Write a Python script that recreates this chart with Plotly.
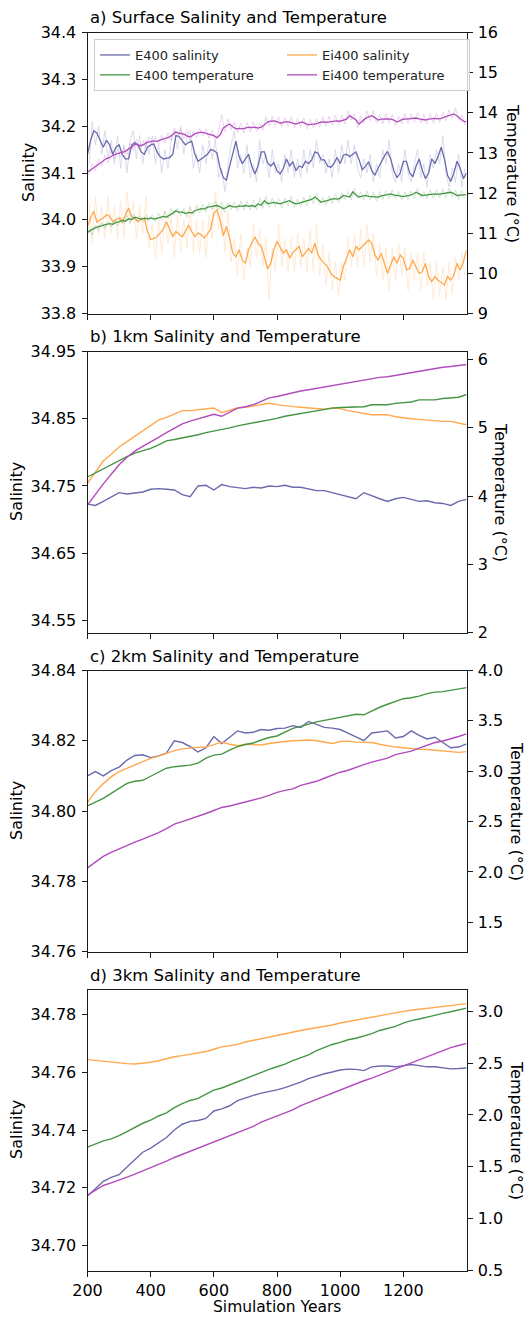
import plotly.graph_objects as go

W, H = 529, 1317

# ---------------- data ----------------
YEARS_SURF = list(range(200, 1401, 10))      # smoothed surface series
YEARS_RAW = list(range(205, 1400, 10))       # raw (annual-ish) surface series
YEARS_DEEP = list(range(200, 1401, 25))      # deep series

# a) Surface
E400_SAL_SURF = [
    34.140, 34.170, 34.190, 34.185, 34.170, 34.155, 34.170, 34.160, 34.140, 34.155,
    34.160, 34.140, 34.130, 34.130, 34.160, 34.165, 34.160, 34.145, 34.140, 34.155,
    34.160, 34.162, 34.145, 34.135, 34.130, 34.132, 34.133, 34.140, 34.180, 34.178,
    34.168, 34.160, 34.165, 34.168, 34.140, 34.125, 34.130, 34.135, 34.140, 34.150,
    34.148, 34.143, 34.110, 34.090, 34.085, 34.115, 34.140, 34.168, 34.135, 34.120,
    34.130, 34.140, 34.115, 34.098, 34.115, 34.145, 34.145, 34.122, 34.115, 34.122,
    34.105, 34.098, 34.110, 34.130, 34.115, 34.124, 34.105, 34.115, 34.112, 34.125,
    34.120, 34.128, 34.145, 34.142, 34.128, 34.128, 34.115, 34.112, 34.120, 34.133,
    34.120, 34.138, 34.140, 34.135, 34.140, 34.145, 34.128, 34.107, 34.114, 34.124,
    34.105, 34.095, 34.110, 34.124, 34.136, 34.146, 34.130, 34.105, 34.090, 34.100,
    34.125, 34.125, 34.100, 34.092, 34.114, 34.130, 34.106, 34.088, 34.100, 34.130,
    34.120, 34.135, 34.155, 34.130, 34.095, 34.082, 34.100, 34.125, 34.110, 34.088,
    34.100]
E400_TEMP_SURF = [
    11.02, 11.08, 11.12, 11.15, 11.18, 11.20, 11.22, 11.24, 11.22, 11.27,
    11.28, 11.32, 11.30, 11.36, 11.34, 11.40, 11.37, 11.35, 11.37, 11.36,
    11.38, 11.35, 11.37, 11.40, 11.42, 11.40, 11.44, 11.50, 11.56, 11.52,
    11.53, 11.49, 11.52, 11.50, 11.56, 11.58, 11.61, 11.60, 11.65, 11.66,
    11.67, 11.69, 11.66, 11.61, 11.64, 11.69, 11.66, 11.65, 11.68, 11.67,
    11.69, 11.67, 11.69, 11.66, 11.73, 11.70, 11.81, 11.74, 11.75, 11.77,
    11.75, 11.73, 11.76, 11.79, 11.81, 11.76, 11.73, 11.75, 11.77, 11.79,
    11.81, 11.84, 11.90, 11.83, 11.77, 11.80, 11.81, 11.84, 11.86, 11.85,
    11.87, 11.94, 11.92, 11.90, 12.03, 11.95, 11.90, 11.92, 11.94, 11.92,
    11.91, 11.90, 11.90, 11.93, 11.94, 11.96, 11.98, 11.95, 11.94, 11.92,
    11.91, 11.93, 11.94, 11.97, 12.02, 11.98, 11.94, 11.95, 11.96, 11.97,
    11.98, 11.97, 11.98, 11.99, 12.00, 12.02, 11.99, 11.94, 11.95, 11.96,
    11.96]
EI400_SAL_SURF = [
    33.985, 34.005, 34.018, 33.995, 34.000, 34.004, 34.011, 34.008, 33.996, 34.000,
    34.004, 33.995, 34.010, 34.025, 34.006, 34.004, 33.996, 34.002, 34.004, 33.975,
    33.958, 33.960, 33.964, 33.972, 33.980, 33.996, 33.980, 33.964, 33.975, 33.970,
    33.964, 33.975, 33.989, 33.975, 33.964, 33.972, 33.968, 33.961, 33.972, 33.980,
    34.014, 34.021, 34.000, 33.966, 33.986, 33.961, 33.929, 33.921, 33.936, 33.914,
    33.907, 33.936, 33.950, 33.964, 33.950, 33.943, 33.921, 33.895, 33.907, 33.936,
    33.954, 33.940, 33.929, 33.936, 33.918, 33.930, 33.936, 33.943, 33.921, 33.929,
    33.939, 33.929, 33.950, 33.925, 33.914, 33.907, 33.900, 33.886, 33.879, 33.875,
    33.871, 33.900, 33.920, 33.936, 33.921, 33.943, 33.936, 33.943, 33.950, 33.957,
    33.950, 33.925, 33.914, 33.929, 33.907, 33.886, 33.904, 33.921, 33.907, 33.925,
    33.918, 33.893, 33.896, 33.914, 33.900, 33.886, 33.889, 33.907, 33.879, 33.868,
    33.879, 33.871, 33.866, 33.861, 33.879, 33.871, 33.882, 33.907, 33.893, 33.910,
    33.936]
EI400_TEMP_SURF = [
    12.52, 12.58, 12.62, 12.68, 12.74, 12.80, 12.86, 12.88, 12.94, 12.97,
    12.99, 13.02, 13.04, 13.10, 13.14, 13.22, 13.20, 13.18, 13.22, 13.27,
    13.28, 13.30, 13.29, 13.33, 13.35, 13.37, 13.40, 13.46, 13.52, 13.49,
    13.48, 13.45, 13.40, 13.42, 13.48, 13.50, 13.52, 13.50, 13.48, 13.45,
    13.43, 13.38, 13.45, 13.62, 13.66, 13.72, 13.65, 13.60, 13.61, 13.60,
    13.62, 13.64, 13.63, 13.64, 13.62, 13.64, 13.70, 13.77, 13.79, 13.80,
    13.78, 13.74, 13.76, 13.78, 13.77, 13.74, 13.72, 13.75, 13.77, 13.73,
    13.70, 13.72, 13.72, 13.74, 13.77, 13.77, 13.76, 13.78, 13.79, 13.80,
    13.79, 13.81, 13.84, 13.93, 13.88, 13.82, 13.72, 13.80, 13.86, 13.90,
    13.93, 13.88, 13.82, 13.84, 13.85, 13.85, 13.84, 13.82, 13.77, 13.81,
    13.85, 13.84, 13.85, 13.86, 13.87, 13.85, 13.83, 13.82, 13.84, 13.85,
    13.86, 13.85, 13.86, 13.89, 13.92, 13.95, 13.97, 13.92, 13.85, 13.79,
    13.77]

E400_SAL_RAW = [
    34.12, 34.21, 34.16, 34.20, 34.14, 34.19, 34.13, 34.17, 34.12, 34.18,
    34.11, 34.16, 34.10, 34.17, 34.19, 34.13, 34.18, 34.12, 34.17, 34.14,
    34.18, 34.12, 34.16, 34.10, 34.15, 34.11, 34.17, 34.19, 34.15, 34.20,
    34.14, 34.18, 34.19, 34.11, 34.14, 34.10, 34.16, 34.12, 34.17, 34.13,
    34.17, 34.09, 34.11, 34.06, 34.12, 34.16, 34.19, 34.11, 34.14, 34.10,
    34.16, 34.09, 34.12, 34.08, 34.17, 34.12, 34.14, 34.09, 34.15, 34.10,
    34.12, 34.08, 34.14, 34.10, 34.15, 34.09, 34.13, 34.09, 34.15, 34.10,
    34.15, 34.11, 34.17, 34.12, 34.14, 34.10, 34.13, 34.09, 34.15, 34.10,
    34.16, 34.12, 34.17, 34.12, 34.16, 34.11, 34.09, 34.13, 34.10, 34.14,
    34.08, 34.12, 34.09, 34.15, 34.12, 34.17, 34.10, 34.08, 34.12, 34.08,
    34.15, 34.10, 34.08, 34.12, 34.15, 34.09, 34.12, 34.07, 34.14, 34.11,
    34.15, 34.12, 34.18, 34.10, 34.07, 34.11, 34.08, 34.14, 34.07, 34.11]
E400_TEMP_RAW = [
    11.15, 10.95, 11.20, 11.05, 11.28, 11.12, 11.30, 11.15, 11.35, 11.18,
    11.40, 11.22, 11.45, 11.25, 11.48, 11.30, 11.44, 11.28, 11.46, 11.30,
    11.46, 11.28, 11.50, 11.32, 11.55, 11.35, 11.62, 11.45, 11.64, 11.42,
    11.62, 11.40, 11.65, 11.45, 11.70, 11.50, 11.72, 11.52, 11.76, 11.58,
    11.80, 11.58, 11.78, 11.52, 11.76, 11.58, 11.78, 11.55, 11.80, 11.58,
    11.80, 11.57, 11.82, 11.58, 11.88, 11.62, 11.92, 11.64, 11.88, 11.66,
    11.86, 11.62, 11.88, 11.68, 11.92, 11.64, 11.86, 11.65, 11.90, 11.68,
    11.95, 11.74, 12.00, 11.72, 11.90, 11.70, 11.94, 11.74, 11.98, 11.76,
    12.02, 11.84, 12.04, 11.82, 12.12, 11.86, 12.02, 11.83, 12.05, 11.82,
    12.02, 11.80, 12.04, 11.84, 12.06, 11.86, 12.08, 11.86, 12.04, 11.82,
    12.03, 11.84, 12.05, 11.86, 12.12, 11.88, 12.04, 11.86, 12.08, 11.86,
    12.08, 11.88, 12.10, 11.88, 12.12, 11.90, 12.08, 11.84, 12.06, 11.86]
EI400_SAL_RAW = [
    34.04, 33.95, 34.05, 33.97, 34.03, 33.96, 34.05, 33.97, 34.03, 33.96,
    34.04, 33.96, 34.06, 33.99, 34.04, 33.96, 34.03, 33.97, 34.05, 33.94,
    33.99, 33.92, 34.00, 33.93, 34.02, 33.95, 34.01, 33.92, 34.01, 33.93,
    34.00, 33.94, 34.03, 33.93, 34.00, 33.93, 34.00, 33.92, 34.01, 33.96,
    34.06, 33.98, 34.03, 33.93, 34.02, 33.91, 33.96, 33.88, 33.97, 33.87,
    33.94, 33.90, 33.99, 33.92, 33.98, 33.90, 33.96, 33.83, 33.94, 33.89,
    33.99, 33.90, 33.96, 33.89, 33.96, 33.89, 33.97, 33.90, 33.96, 33.89,
    33.98, 33.89, 33.99, 33.88, 33.95, 33.86, 33.93, 33.85, 33.91, 33.84,
    33.91, 33.87, 33.96, 33.90, 33.97, 33.90, 33.98, 33.90, 33.99, 33.91,
    33.97, 33.88, 33.95, 33.87, 33.94, 33.85, 33.94, 33.87, 33.95, 33.88,
    33.94, 33.85, 33.93, 33.87, 33.93, 33.85, 33.93, 33.86, 33.91, 33.83,
    33.91, 33.84, 33.90, 33.83, 33.91, 33.84, 33.92, 33.87, 33.93, 33.88]
EI400_TEMP_RAW = [
    12.45, 12.75, 12.55, 12.85, 12.65, 12.95, 12.75, 13.05, 12.85, 13.10,
    12.90, 13.15, 12.95, 13.25, 13.05, 13.35, 13.08, 13.32, 13.12, 13.40,
    13.18, 13.42, 13.20, 13.45, 13.25, 13.50, 13.30, 13.62, 13.40, 13.60,
    13.35, 13.58, 13.30, 13.55, 13.38, 13.62, 13.42, 13.60, 13.36, 13.56,
    13.30, 13.55, 13.95, 13.52, 13.85, 13.58, 13.78, 13.50, 13.74, 13.50,
    13.76, 13.52, 13.78, 13.54, 13.75, 13.56, 13.90, 13.66, 13.92, 13.68,
    13.90, 13.64, 13.88, 13.66, 13.90, 13.62, 13.86, 13.64, 13.88, 13.60,
    13.84, 13.62, 13.86, 13.64, 13.90, 13.66, 13.92, 13.68, 13.94, 13.70,
    13.94, 13.72, 14.05, 13.82, 13.98, 13.62, 13.92, 13.74, 14.04, 13.80,
    14.05, 13.74, 13.96, 13.72, 13.98, 13.74, 13.96, 13.68, 13.92, 13.72,
    13.98, 13.74, 13.98, 13.76, 14.00, 13.74, 13.96, 13.72, 13.98, 13.74,
    13.98, 13.76, 14.02, 13.80, 14.08, 13.84, 14.12, 13.82, 13.95, 13.70]

# b) 1 km
E400_SAL_1KM = [
    34.723, 34.721, 34.727, 34.733, 34.740, 34.738, 34.739, 34.741, 34.745, 34.746,
    34.745, 34.744, 34.737, 34.734, 34.750, 34.751, 34.744, 34.752, 34.749, 34.747,
    34.746, 34.748, 34.747, 34.750, 34.749, 34.751, 34.748, 34.748, 34.745, 34.743,
    34.743, 34.740, 34.738, 34.735, 34.731, 34.740, 34.735, 34.731, 34.727, 34.731,
    34.733, 34.730, 34.727, 34.728, 34.725, 34.724, 34.721, 34.727, 34.730]
EI400_SAL_1KM = [
    34.754, 34.771, 34.787, 34.797, 34.808, 34.816, 34.824, 34.832, 34.840, 34.848,
    34.852, 34.857, 34.862, 34.862, 34.863, 34.864, 34.866, 34.859, 34.863, 34.866,
    34.867, 34.869, 34.870, 34.873, 34.871, 34.869, 34.868, 34.867, 34.866, 34.864,
    34.864, 34.866, 34.865, 34.862, 34.860, 34.858, 34.856, 34.856, 34.856, 34.853,
    34.851, 34.850, 34.849, 34.848, 34.846, 34.846, 34.846, 34.844, 34.841]
E400_TEMP_1KM = [
    4.28, 4.34, 4.41, 4.46, 4.52, 4.58, 4.63, 4.66, 4.70, 4.75,
    4.81, 4.83, 4.85, 4.87, 4.90, 4.93, 4.95, 4.97, 5.00, 5.03,
    5.05, 5.07, 5.10, 5.12, 5.14, 5.17, 5.19, 5.22, 5.24, 5.26,
    5.27, 5.29, 5.30, 5.30, 5.31, 5.31, 5.34, 5.34, 5.34, 5.36,
    5.37, 5.38, 5.41, 5.41, 5.41, 5.43, 5.44, 5.45, 5.49]
EI400_TEMP_1KM = [
    3.87, 4.03, 4.18, 4.32, 4.46, 4.57, 4.66, 4.73, 4.79, 4.86,
    4.93, 5.00, 5.06, 5.10, 5.13, 5.16, 5.20, 5.17, 5.23, 5.29,
    5.31, 5.34, 5.39, 5.44, 5.46, 5.49, 5.51, 5.54, 5.56, 5.58,
    5.60, 5.63, 5.65, 5.67, 5.68, 5.71, 5.73, 5.74, 5.75, 5.77,
    5.80, 5.81, 5.83, 5.85, 5.87, 5.89, 5.90, 5.91, 5.93]

# c) 2 km
E400_SAL_2KM = [
    34.8100, 34.8112, 34.8100, 34.8115, 34.8125, 34.8145, 34.8158, 34.8160, 34.8152, 34.8157,
    34.8165, 34.8200, 34.8195, 34.8183, 34.8168, 34.8180, 34.8212, 34.8192, 34.8210, 34.8228,
    34.8222, 34.8224, 34.8232, 34.8230, 34.8235, 34.8236, 34.8243, 34.8238, 34.8255, 34.8246,
    34.8238, 34.8236, 34.8232, 34.8222, 34.8210, 34.8200, 34.8222, 34.8226, 34.8228, 34.8208,
    34.8212, 34.8228, 34.8215, 34.8205, 34.8210, 34.8195, 34.8180, 34.8182, 34.8191]
EI400_SAL_2KM = [
    34.8025, 34.8055, 34.8078, 34.8097, 34.8112, 34.8122, 34.8132, 34.8140, 34.8150, 34.8156,
    34.8165, 34.8172, 34.8177, 34.8180, 34.8181, 34.8182, 34.8188, 34.8196, 34.8190, 34.8186,
    34.8190, 34.8190, 34.8188, 34.8192, 34.8196, 34.8198, 34.8200, 34.8201, 34.8202, 34.8200,
    34.8196, 34.8192, 34.8198, 34.8199, 34.8196, 34.8196, 34.8195, 34.8190, 34.8185, 34.8182,
    34.8180, 34.8177, 34.8176, 34.8175, 34.8173, 34.8170, 34.8167, 34.8167, 34.8169]
E400_TEMP_2KM = [
    2.655, 2.69, 2.73, 2.78, 2.83, 2.88, 2.90, 2.91, 2.95, 2.99,
    3.03, 3.045, 3.05, 3.06, 3.08, 3.13, 3.16, 3.17, 3.21, 3.245,
    3.265, 3.28, 3.31, 3.335, 3.35, 3.39, 3.425, 3.445, 3.47, 3.49,
    3.505, 3.52, 3.53, 3.545, 3.565, 3.56, 3.60, 3.635, 3.665, 3.69,
    3.72, 3.73, 3.745, 3.77, 3.785, 3.79, 3.805, 3.82, 3.83]
EI400_TEMP_2KM = [
    2.04, 2.10, 2.155, 2.195, 2.23, 2.265, 2.295, 2.325, 2.355, 2.39,
    2.43, 2.475, 2.50, 2.525, 2.55, 2.58, 2.61, 2.64, 2.655, 2.675,
    2.69, 2.71, 2.735, 2.76, 2.79, 2.81, 2.825, 2.86, 2.88, 2.90,
    2.93, 2.96, 2.99, 3.01, 3.04, 3.065, 3.09, 3.11, 3.13, 3.165,
    3.18, 3.20, 3.23, 3.26, 3.285, 3.30, 3.32, 3.345, 3.37]

# d) 3 km
E400_SAL_3KM = [
    34.7171, 34.7198, 34.7222, 34.7236, 34.7245, 34.7272, 34.7299, 34.7323, 34.7337, 34.7354,
    34.7374, 34.7400, 34.7420, 34.7430, 34.7433, 34.7440, 34.7466, 34.7473, 34.7484, 34.7502,
    34.7512, 34.7520, 34.7528, 34.7533, 34.7539, 34.7547, 34.7556, 34.7566, 34.7578, 34.7587,
    34.7595, 34.7601, 34.7608, 34.7611, 34.7610, 34.7606, 34.7619, 34.7622, 34.7622, 34.7619,
    34.7622, 34.7627, 34.7623, 34.7619, 34.7619, 34.7616, 34.7612, 34.7613, 34.7615]
EI400_SAL_3KM = [
    34.7644, 34.7641, 34.7638, 34.7634, 34.7632, 34.7630, 34.7629, 34.7631, 34.7635, 34.7640,
    34.7648, 34.7654, 34.7658, 34.7663, 34.7668, 34.7672, 34.7680, 34.7688, 34.7692, 34.7697,
    34.7705, 34.7711, 34.7716, 34.7722, 34.7728, 34.7734, 34.7739, 34.7745, 34.7750, 34.7754,
    34.7759, 34.7764, 34.7771, 34.7776, 34.7782, 34.7788, 34.7792, 34.7797, 34.7802, 34.7807,
    34.7811, 34.7815, 34.7818, 34.7821, 34.7824, 34.7828, 34.7831, 34.7835, 34.7838]
E400_TEMP_3KM = [
    1.69, 1.72, 1.75, 1.77, 1.80, 1.84, 1.88, 1.92, 1.95, 1.99,
    2.02, 2.07, 2.11, 2.14, 2.16, 2.20, 2.24, 2.26, 2.29, 2.32,
    2.355, 2.385, 2.415, 2.44, 2.465, 2.49, 2.525, 2.555, 2.58, 2.62,
    2.65, 2.68, 2.70, 2.725, 2.74, 2.76, 2.785, 2.815, 2.835, 2.855,
    2.885, 2.91, 2.925, 2.945, 2.965, 2.98, 2.995, 3.01, 3.03]
EI400_TEMP_3KM = [
    1.226, 1.27, 1.32, 1.345, 1.37, 1.40, 1.43, 1.46, 1.49, 1.52,
    1.555, 1.59, 1.62, 1.65, 1.68, 1.71, 1.74, 1.77, 1.80, 1.83,
    1.86, 1.89, 1.93, 1.96, 1.99, 2.02, 2.05, 2.09, 2.12, 2.15,
    2.18, 2.21, 2.245, 2.275, 2.305, 2.33, 2.355, 2.385, 2.415, 2.44,
    2.47, 2.50, 2.53, 2.56, 2.59, 2.62, 2.65, 2.67, 2.69]

SERIES_NAMES = ["E400 salinity", "Ei400 salinity", "E400 temperature", "Ei400 temperature"]
PANEL_TITLES = ["a) Surface Salinity and Temperature", "b) 1km Salinity and Temperature",
                "c) 2km Salinity and Temperature", "d) 3km Salinity and Temperature"]
X_TICKS = [200, 400, 600, 800, 1000, 1200]
SAL_TICKS = [[33.8, 33.9, 34.0, 34.1, 34.2, 34.3, 34.4],
             [34.55, 34.65, 34.75, 34.85, 34.95],
             [34.76, 34.78, 34.80, 34.82, 34.84],
             [34.70, 34.72, 34.74, 34.76, 34.78]]
SAL_FMT = ["{:.1f}", "{:.2f}", "{:.2f}", "{:.2f}"]
TEMP_TICKS = [[9, 10, 11, 12, 13, 14, 15, 16],
              [2, 3, 4, 5, 6],
              [1.5, 2.0, 2.5, 3.0, 3.5, 4.0],
              [0.5, 1.0, 1.5, 2.0, 2.5, 3.0]]
TEMP_FMT = ["{:.0f}", "{:.0f}", "{:.1f}", "{:.1f}"]

# ---------------- styling / layout ----------------
FONT = "DejaVu Sans"
C_ESAL = "#6a6aad"
C_ETEMP = "#449644"
C_ISAL = "#ffa84e"
C_ITEMP = "#b04cbc"
AX_COL = "#1a1a1a"

X_LEFT, X_RIGHT = 87.5, 466.5
PANEL_PX = [(32.5, 313.5), (351.5, 632.5), (670.5, 951.5), (989.5, 1270.5)]
SAL_RANGE = [[33.8, 34.4], [34.532, 34.95], [34.76, 34.84], [34.6913, 34.7887]]
TEMP_RANGE = [[9, 16], [2, 6.12], [1.21, 4.0], [0.5, 3.21]]
SAL_LABEL_X = [28, 16, 16, 16]
TEMP_LABEL_X = [513, 501, 517, 517]


def fx(px):
    return px / W


def fy(py):
    return 1 - py / H


fig = go.Figure()

deep_sets = [
    None,
    (E400_SAL_1KM, EI400_SAL_1KM, E400_TEMP_1KM, EI400_TEMP_1KM),
    (E400_SAL_2KM, EI400_SAL_2KM, E400_TEMP_2KM, EI400_TEMP_2KM),
    (E400_SAL_3KM, EI400_SAL_3KM, E400_TEMP_3KM, EI400_TEMP_3KM),
]
colors = [C_ESAL, C_ISAL, C_ETEMP, C_ITEMP]

layout_axes = {}
annotations = []

for i in range(4):
    xa = "x" if i == 0 else f"x{i + 1}"
    ys = f"y{2 * i + 1}" if i > 0 else "y"
    yt = f"y{2 * i + 2}"
    top, bot = PANEL_PX[i]

    if i == 0:
        raws = [E400_SAL_RAW, EI400_SAL_RAW, E400_TEMP_RAW, EI400_TEMP_RAW]
        for k, v in enumerate(raws):
            fig.add_trace(go.Scatter(
                x=YEARS_RAW, y=v, mode="lines", xaxis=xa,
                yaxis=ys if k < 2 else yt,
                line=dict(color=colors[k], width=0.8), opacity=0.3,
                showlegend=False, hoverinfo="skip"))
        smooth = [E400_SAL_SURF, EI400_SAL_SURF, E400_TEMP_SURF, EI400_TEMP_SURF]
        for k, v in enumerate(smooth):
            fig.add_trace(go.Scatter(
                x=YEARS_SURF, y=v, mode="lines", xaxis=xa,
                yaxis=ys if k < 2 else yt, name=SERIES_NAMES[k],
                line=dict(color=colors[k], width=1.3),
                showlegend=True, legendrank=k + 1))
    else:
        for k, v in enumerate(deep_sets[i]):
            fig.add_trace(go.Scatter(
                x=YEARS_DEEP, y=v, mode="lines", xaxis=xa,
                yaxis=ys if k < 2 else yt,
                line=dict(color=colors[k], width=1.4),
                showlegend=False))

    xkey = "xaxis" if i == 0 else f"xaxis{i + 1}"
    yskey = "yaxis" if i == 0 else f"yaxis{2 * i + 1}"
    ytkey = f"yaxis{2 * i + 2}"
    common = dict(showgrid=False, zeroline=False, showline=True, linecolor=AX_COL,
                  linewidth=1, ticks="outside", ticklen=5, tickwidth=1, tickcolor=AX_COL,
                  automargin=False,
                  tickfont=dict(family=FONT, size=16, color="black"))
    layout_axes[xkey] = dict(common, domain=[fx(X_LEFT), fx(X_RIGHT)], range=[200, 1400],
                             anchor=ys, mirror=True, tickvals=X_TICKS,
                             ticktext=[str(t) for t in X_TICKS],
                             showticklabels=(i == 3))
    layout_axes[yskey] = dict(common, domain=[fy(bot), fy(top)], range=SAL_RANGE[i],
                              anchor=xa, side="left", tickvals=SAL_TICKS[i],
                              ticklabelstandoff=2,
                              ticktext=[SAL_FMT[i].format(t) for t in SAL_TICKS[i]])
    layout_axes[ytkey] = dict(common, domain=[fy(bot), fy(top)], range=TEMP_RANGE[i],
                              anchor=xa, side="right", overlaying=ys,
                              tickvals=TEMP_TICKS[i], ticklabelstandoff=2,
                              ticktext=[TEMP_FMT[i].format(t) for t in TEMP_TICKS[i]])

    mid = (top + bot) / 2
    annotations.append(dict(text=PANEL_TITLES[i], xref="paper", yref="paper",
                            x=fx(X_LEFT), y=fy(top - 3), xanchor="left", yanchor="bottom",
                            showarrow=False, font=dict(family=FONT, size=16.5, color="black")))
    annotations.append(dict(text="Salinity", xref="paper", yref="paper",
                            x=fx(SAL_LABEL_X[i]), y=fy(mid), xanchor="center", yanchor="middle",
                            textangle=-90, showarrow=False,
                            font=dict(family=FONT, size=16, color="black")))
    annotations.append(dict(text="Temperature (°C)", xref="paper", yref="paper",
                            x=fx(TEMP_LABEL_X[i]), y=fy(mid), xanchor="center", yanchor="middle",
                            textangle=90, showarrow=False,
                            font=dict(family=FONT, size=16, color="black")))

annotations.append(dict(text="Simulation Years", xref="paper", yref="paper",
                        x=fx((X_LEFT + X_RIGHT) / 2), y=0, xanchor="center",
                        yanchor="bottom", showarrow=False, borderpad=0,
                        font=dict(family=FONT, size=15.5, color="black")))

fig.update_layout(
    width=W, height=H,
    margin=dict(l=0, r=0, t=0, b=0, autoexpand=False),
    paper_bgcolor="white", plot_bgcolor="white",
    font=dict(family=FONT, size=16, color="black"),
    annotations=annotations,
    showlegend=True,
    legend=dict(orientation="h", x=fx(94), y=fy(39), xanchor="left", yanchor="top",
                entrywidth=142, entrywidthmode="pixels",
                bgcolor="rgba(255,255,255,0.8)", bordercolor="#cccccc", borderwidth=1,
                font=dict(family=FONT, size=13, color="#222222"),
                tracegroupgap=0, itemwidth=30),
    **layout_axes,
)

fig.write_html("out.html")
